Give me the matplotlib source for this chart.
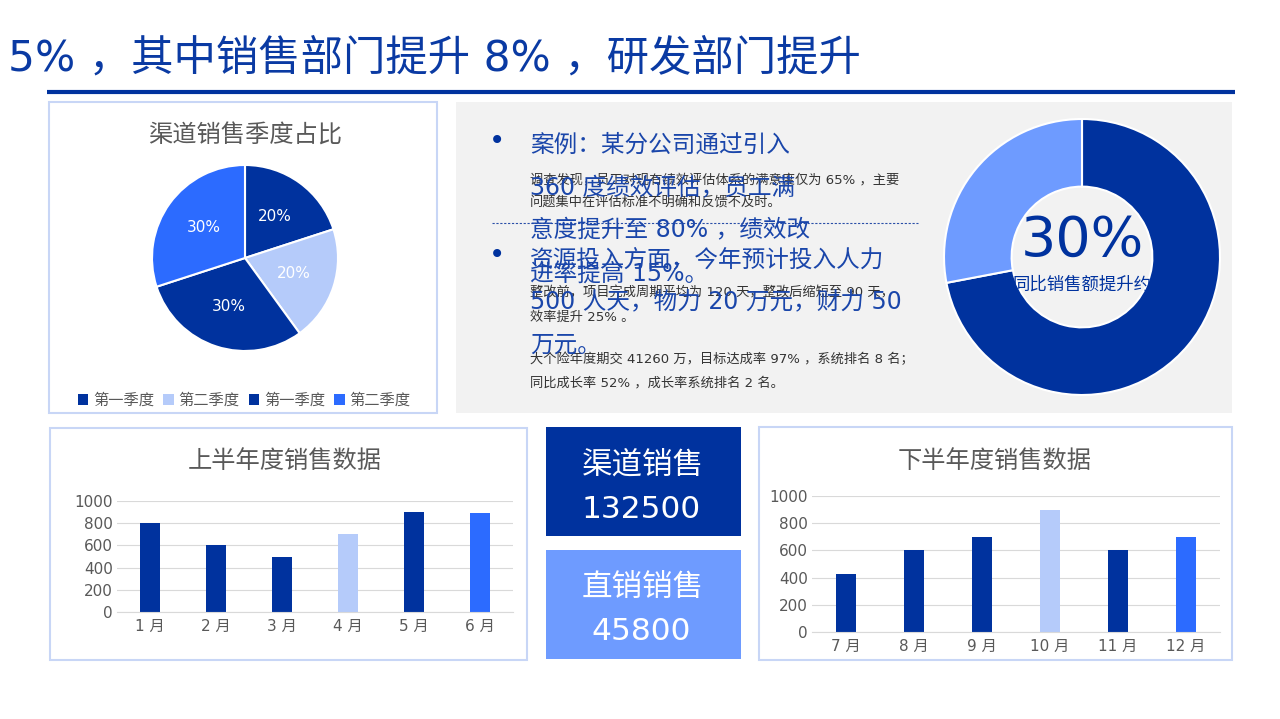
import matplotlib
matplotlib.use("Agg")
import matplotlib.pyplot as plt
from matplotlib.patches import Rectangle, Circle, Patch

plt.rcParams["font.family"] = ["DejaVu Sans", "Noto Sans CJK SC"]

W, H = 1280, 719

DARK = "#00329E"
LIGHT = "#B5CBFA"
BRIGHT = "#2C6BFF"
MID = "#6E9BFF"
GRAY_TEXT = "#595959"
BORDER = "#C8D6F6"

# ---- data ----
headline = "5% ，其中销售部门提升 8% ，研发部门提升"

pie_title = "渠道销售季度占比"
pie_labels = ["第一季度", "第二季度", "第一季度", "第二季度"]
pie_values = [20, 20, 30, 30]
pie_colors = [DARK, LIGHT, DARK, BRIGHT]

h1_title = "上半年度销售数据"
h1_months = ["1 月", "2 月", "3 月", "4 月", "5 月", "6 月"]
h1_values = [800, 600, 500, 700, 900, 890]
h1_colors = [DARK, DARK, DARK, LIGHT, DARK, BRIGHT]

h2_title = "下半年度销售数据"
h2_months = ["7 月", "8 月", "9 月", "10 月", "11 月", "12 月"]
h2_values = [425, 600, 700, 900, 600, 700]
h2_colors = [DARK, DARK, DARK, LIGHT, DARK, BRIGHT]

channel_label, channel_total = "渠道销售", 132500
direct_label, direct_total = "直销销售", 45800

donut_values = [72, 28]
donut_colors = [DARK, MID]
donut_big = "30%"
donut_caption = "同比销售额提升约"

case_lines = ["案例：某分公司通过引入", "360 度绩效评估，员工满", "意度提升至 80% ，绩效改", "进率提高 15%。"]
case_notes = ["调查发现，员工对现有绩效评估体系的满意度仅为 65% ，主要", "问题集中在评估标准不明确和反馈不及时。"]
res_lines = ["资源投入方面，今年预计投入人力", "500 人天，物力 20 万元，财力 50", "万元。"]
res_notes = ["整改前，项目完成周期平均为 120 天，整改后缩短至 90 天，", "效率提升 25% 。"]
extra_notes = ["大个险年度期交 41260 万，目标达成率 97% ，系统排名 8 名；", "同比成长率 52% ，成长率系统排名 2 名。"]


def px_axes(x0, y0, x1, y1):
    return fig.add_axes([x0 / W, 1 - y1 / H, (x1 - x0) / W, (y1 - y0) / H])


fig = plt.figure(figsize=(12.8, 7.19), dpi=100)

# background layer in pixel coords
bg = fig.add_axes([0, 0, 1, 1])
bg.set_xlim(0, W)
bg.set_ylim(H, 0)
bg.axis("off")

bg.text(8, 59, headline, color="#0A3AA3", fontsize=30.5, ha="left", va="center")
bg.plot([47, 1235], [92, 92], color=DARK, lw=3, solid_capstyle="butt")

# panels
bg.add_patch(Rectangle((49, 102), 388, 311, facecolor="white", edgecolor=BORDER, lw=1.5))
bg.add_patch(Rectangle((456, 102), 776, 311, facecolor="#F2F2F2", edgecolor="none"))
bg.add_patch(Rectangle((50, 428), 477, 232, facecolor="white", edgecolor=BORDER, lw=1.5))
bg.add_patch(Rectangle((759, 427), 473, 233, facecolor="white", edgecolor=BORDER, lw=1.5))
bg.add_patch(Rectangle((546, 427), 195, 109, facecolor=DARK, edgecolor="none"))
bg.add_patch(Rectangle((546, 550), 195, 109, facecolor=MID, edgecolor="none"))

# boxes text
bg.text(643, 465, channel_label, color="white", fontsize=22, ha="center", va="center")
bg.text(641, 510, str(channel_total), color="white", fontsize=22.5, ha="center", va="center")
bg.text(643, 587, direct_label, color="white", fontsize=22, ha="center", va="center")
bg.text(641, 631, str(direct_total), color="white", fontsize=22.5, ha="center", va="center")

# gray panel text
bg.plot([492, 918], [223, 223], color="#2A4FA8", lw=0.8, ls=(0, (2, 1.5)))
for y, s in zip([180, 203, 293, 317, 359, 383], case_notes + res_notes + extra_notes):
    bg.text(530, y, s, color="#333333", fontsize=9.5, ha="left", va="center")
for y0, lines in [(145, case_lines), (259, res_lines)]:
    bg.text(497, y0 - 4, "•", color=DARK, fontsize=20, ha="center", va="center")
    for i, s in enumerate(lines):
        bg.text(530, y0 + i * 42.8, s, color="#1A46AA", fontsize=17, ha="left", va="center")

# titles
bg.text(245, 136, pie_title, color=GRAY_TEXT, fontsize=17.5, ha="center", va="center")
bg.text(285, 461, h1_title, color=GRAY_TEXT, fontsize=17.5, ha="center", va="center")
bg.text(995, 461, h2_title, color=GRAY_TEXT, fontsize=17.5, ha="center", va="center")

# ---- pie ----
r = 93
pad = 1.05
ax = px_axes(245 - r * pad, 258 - r * pad, 245 + r * pad, 258 + r * pad)
wedges, _, autotexts = ax.pie(pie_values, colors=pie_colors, startangle=90, counterclock=False,
                              autopct="%d%%", pctdistance=0.55,
                              wedgeprops=dict(edgecolor="white", linewidth=1.5),
                              textprops=dict(color="white", fontsize=11))
ax.set_xlim(-pad, pad)
ax.set_ylim(-pad, pad)

handles = [Patch(facecolor=c, edgecolor="none") for c in pie_colors]
fig.legend(handles, pie_labels, loc="center", bbox_to_anchor=(244 / W, 1 - 400 / H), ncol=4,
           frameon=False, fontsize=11, handlelength=0.7, handleheight=0.7, handletextpad=0.3,
           columnspacing=0.6, labelcolor=GRAY_TEXT)

# ---- donut ----
R = 138
ax = px_axes(1082 - R, 257 - R, 1082 + R, 257 + R)
ax.pie(donut_values, colors=donut_colors, startangle=90, counterclock=False,
       wedgeprops=dict(width=0.49, edgecolor="white", linewidth=1.5))
ax.set_xlim(-1, 1)
ax.set_ylim(-1, 1)
ax.text(0, 0.12, donut_big, color=DARK, fontsize=40, ha="center", va="center")
cap = ax.text(0, -0.2, donut_caption, color=DARK, fontsize=12.5, ha="center", va="center")
cap.set_clip_path(Circle((0, 0), 0.51, transform=ax.transData))


# ---- bars ----
def bar_chart(box, months, values, colors):
    ax = px_axes(*box)
    ax.bar(range(len(values)), values, width=0.3, color=colors)
    ax.set_xlim(-0.5, len(values) - 0.5)
    ax.set_ylim(0, 1000)
    ax.set_yticks(range(0, 1001, 200))
    ax.set_xticks(range(len(values)))
    ax.set_xticklabels(months)
    ax.grid(axis="y", color="#D9D9D9", lw=0.8)
    ax.set_axisbelow(True)
    for side in ["top", "right", "left"]:
        ax.spines[side].set_visible(False)
    ax.spines["bottom"].set_color("#D9D9D9")
    ax.tick_params(length=0, labelsize=11, labelcolor=GRAY_TEXT)
    ax.tick_params(axis="y", pad=3)
    ax.tick_params(axis="x", pad=5)
    ax.set_facecolor("none")


bar_chart((117, 501, 513, 612), h1_months, h1_values, h1_colors)
bar_chart((812, 496, 1220, 632), h2_months, h2_values, h2_colors)

fig.savefig("out.png", dpi=100)
